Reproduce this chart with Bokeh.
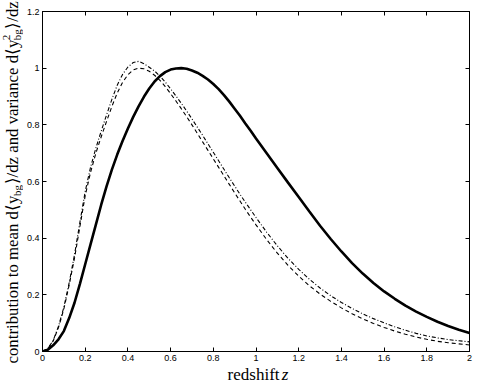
import math
from bokeh.plotting import figure
from bokeh.models import Range1d, FixedTicker, LinearAxis
from bokeh.layouts import row, column
from bokeh.core.properties import value
from bokeh.embed import file_html
from bokeh.resources import INLINE

# ---- data ----
z = [0.0, 0.025, 0.05, 0.075, 0.1, 0.125, 0.15, 0.175, 0.2, 0.225, 0.25, 0.275,
     0.3, 0.325, 0.35, 0.375, 0.4, 0.425, 0.45, 0.475, 0.5, 0.525, 0.55, 0.575,
     0.6, 0.625, 0.65, 0.675, 0.7, 0.725, 0.75, 0.775, 0.8, 0.825, 0.85, 0.875,
     0.9, 0.925, 0.95, 0.975, 1.0, 1.05, 1.1, 1.15, 1.2, 1.25, 1.3, 1.35, 1.4,
     1.45, 1.5, 1.55, 1.6, 1.65, 1.7, 1.75, 1.8, 1.85, 1.9, 1.95, 2.0]

solid_mean = [0.0, 0.006, 0.022, 0.043, 0.072, 0.118, 0.172, 0.238, 0.308, 0.378,
              0.448, 0.518, 0.583, 0.642, 0.695, 0.743, 0.787, 0.828, 0.865, 0.899,
              0.928, 0.953, 0.972, 0.986, 0.995, 0.999, 1.0, 0.998, 0.992, 0.984,
              0.973, 0.96, 0.944, 0.926, 0.905, 0.882, 0.857, 0.832, 0.805, 0.779,
              0.752, 0.70, 0.648, 0.596, 0.545, 0.494, 0.444, 0.397, 0.353, 0.312,
              0.275, 0.242, 0.212, 0.186, 0.162, 0.141, 0.122, 0.105, 0.09, 0.077,
              0.065]

dashed_curve = [0.0, 0.01, 0.037, 0.085, 0.15, 0.235, 0.33, 0.44, 0.55, 0.632,
                0.70, 0.758, 0.812, 0.865, 0.912, 0.95, 0.977, 0.994, 1.0, 0.998,
                0.989, 0.975, 0.957, 0.935, 0.910, 0.884, 0.857, 0.829, 0.800, 0.770,
                0.740, 0.710, 0.680, 0.650, 0.620, 0.590, 0.560, 0.531, 0.502, 0.474,
                0.447, 0.395, 0.347, 0.304, 0.266, 0.232, 0.203, 0.177, 0.154, 0.133,
                0.115, 0.099, 0.085, 0.072, 0.061, 0.051, 0.043, 0.036, 0.031, 0.027,
                0.023]

dashdot_curve = [0.0, 0.011, 0.039, 0.089, 0.156, 0.243, 0.342, 0.455, 0.565, 0.65,
                 0.718, 0.778, 0.835, 0.89, 0.94, 0.978, 1.004, 1.02, 1.024, 1.016,
                 1.003, 0.99, 0.972, 0.951, 0.927, 0.902, 0.876, 0.849, 0.821, 0.792,
                 0.763, 0.733, 0.703, 0.673, 0.643, 0.613, 0.584, 0.555, 0.527, 0.50,
                 0.473, 0.421, 0.373, 0.329, 0.29, 0.255, 0.224, 0.197, 0.173, 0.152,
                 0.133, 0.116, 0.101, 0.087, 0.075, 0.064, 0.055, 0.048, 0.042, 0.038,
                 0.034]

x_ticks = [0, 0.2, 0.4, 0.6, 0.8, 1, 1.2, 1.4, 1.6, 1.8, 2]
x_tick_labels = ["0", "0.2", "0.4", "0.6", "0.8", "1", "1.2", "1.4", "1.6", "1.8", "2"]
y_ticks = [0, 0.2, 0.4, 0.6, 0.8, 1, 1.2]
y_tick_labels = ["0", "0.2", "0.4", "0.6", "0.8", "1", "1.2"]

x_title = ["redshift", "z"]
y_title = ["contribution to mean d\u27e8y", "bg", "\u27e9/dz and variance d\u27e8y",
           "bg", "2", "\u27e9/dz"]

# ---- layout sizes (page has no margin in Bokeh's template) ----
TOTAL_W, TOTAL_H = 477, 384
YS_W = 23                  # strip holding the y title
XS_H = 19                  # strip holding the x title
MW, MH = TOTAL_W - YS_W, TOTAL_H - XS_H
BL, BR, BT, BB = 14, 8, 11, 14

SERIF = "Liberation Serif"
FS = 16.8
SUB = 11


def strip(w, h):
    f = figure(width=w, height=h, output_backend="svg", toolbar_location=None,
               x_range=Range1d(0, w), y_range=Range1d(0, h),
               x_axis_type=None, y_axis_type=None, min_border=0)
    f.outline_line_color = None
    f.xgrid.visible = False
    f.ygrid.visible = False
    f.background_fill_color = "white"
    f.border_fill_color = "white"
    return f


def txt(f, x, y, text, size, style="normal", angle=0.0, align="left"):
    f.text(x=[x], y=[y], text=[text], angle=angle, text_font=value(SERIF),
           text_font_size=value(f"{size}px"), text_font_style=style,
           text_color="black", text_align=align, text_baseline="alphabetic")


# ---- y title strip ----
ys = strip(YS_W, TOTAL_H)
ang = math.pi / 2
w1 = 9.973 * FS
w3 = 8.583 * FS
wsub = 11.5
bx = 12.0
yy = TOTAL_H - 363.0
txt(ys, bx, yy, y_title[0], FS, angle=ang)
yy += w1
txt(ys, bx + 4.0, yy, y_title[1], SUB, angle=ang)
yy += wsub
txt(ys, bx, yy, y_title[2], FS, angle=ang)
yy += w3
txt(ys, bx + 4.0, yy, y_title[3], SUB, angle=ang)
txt(ys, bx - 6.5, yy, y_title[4], SUB, angle=ang)
yy += wsub
txt(ys, bx, yy, y_title[5], FS, angle=ang)

# ---- main plot ----
p = figure(width=MW, height=MH, output_backend="svg", toolbar_location=None,
           x_range=Range1d(0, 2), y_range=Range1d(0, 1.2),
           min_border_left=BL, min_border_right=BR, min_border_top=BT,
           min_border_bottom=BB)
p.xgrid.visible = False
p.ygrid.visible = False
p.outline_line_color = "black"
p.outline_line_width = 1
p.background_fill_color = "white"
p.border_fill_color = "white"

TICK_FONT = "Liberation Sans"
for ax, ticks, labels in ((p.xaxis[0], x_ticks, x_tick_labels), (p.yaxis[0], y_ticks, y_tick_labels)):
    ax.ticker = FixedTicker(ticks=ticks)
    ax.major_label_overrides = dict(zip(ticks, labels))
    ax.major_tick_in = 4
    ax.major_tick_out = 0
    ax.minor_tick_line_color = None
    ax.axis_line_color = "black"
    ax.major_tick_line_color = "black"
    ax.major_label_text_font = TICK_FONT
    ax.major_label_text_font_size = "9px"
    ax.major_label_text_color = "black"
    ax.major_label_standoff = 3

for loc, ticks in (("above", x_ticks), ("right", y_ticks)):
    ax = LinearAxis(ticker=FixedTicker(ticks=ticks))
    ax.major_tick_in = 4
    ax.major_tick_out = 0
    ax.minor_tick_line_color = None
    ax.axis_line_color = "black"
    ax.major_tick_line_color = "black"
    ax.major_label_text_font_size = "1px"
    ax.major_label_text_color = None
    ax.major_label_standoff = 0
    p.add_layout(ax, loc)

p.line(z, solid_mean, line_color="black", line_width=2.6)
p.line(z, dashed_curve, line_color="black", line_width=1.1, line_dash="4 3")
p.line(z, dashdot_curve, line_color="black", line_width=1.1, line_dash="4 2 1 2")

# ---- x title strip (coordinates = page px minus the y strip) ----
xs = strip(MW, XS_H)
txt(xs, 275 - YS_W, 10, x_title[0], 17, align="right")
txt(xs, 277.5 - YS_W, 10, x_title[1], 17, style="italic")

layout = row(ys, column(p, xs))
open("out.html", "w").write(file_html(layout, INLINE))
